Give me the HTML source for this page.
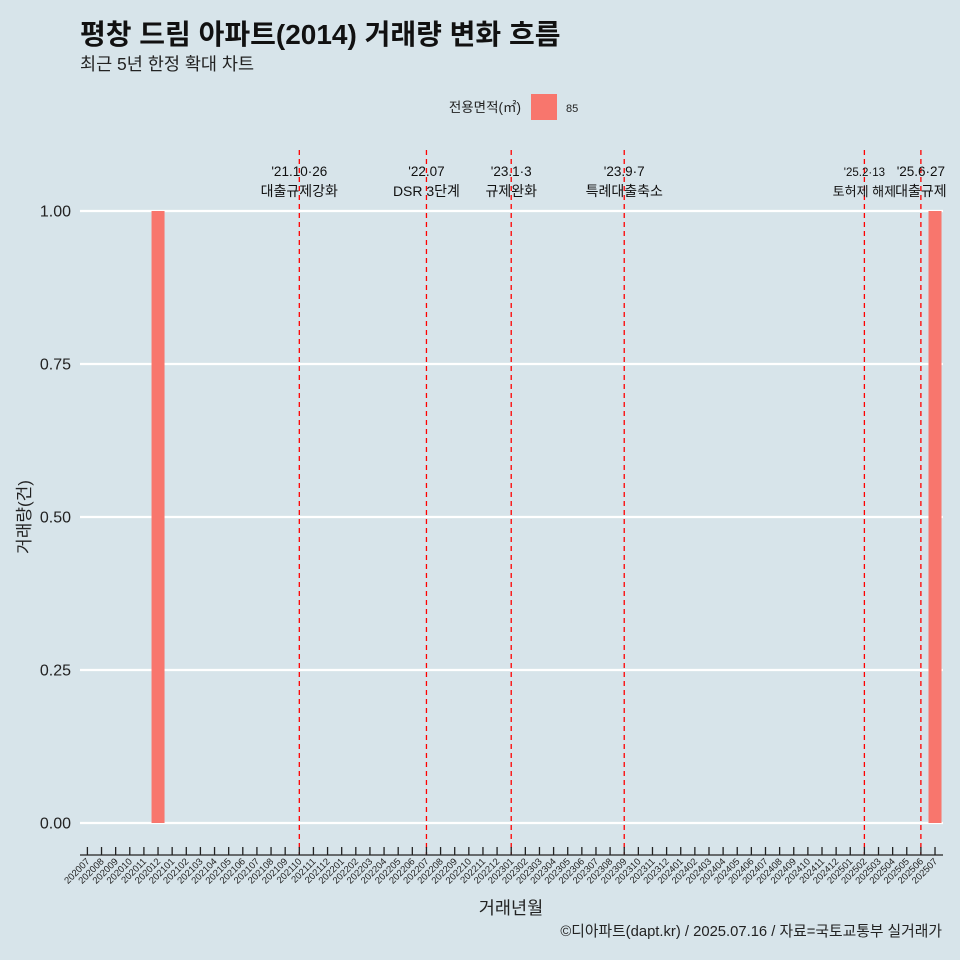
<!DOCTYPE html>
<html><head><meta charset="utf-8"><style>
body{margin:0;background:#d7e4ea;}
svg{display:block;font-family:"Liberation Sans","Noto Sans CJK KR",sans-serif;}
</style></head><body>
<svg id="c" width="960" height="960">
<rect width="960" height="960" fill="#d7e4ea"/>
<text x="80" y="44" font-size="28" font-weight="bold" fill="#111">평창 드림 아파트(2014) 거래량 변화 흐름</text>
<text x="80" y="70" font-size="17.5" fill="#222">최근 5년 한정 확대 차트</text>
<text x="521" y="112" font-size="13.5" text-anchor="end" fill="#222">전용면적(㎡)</text>
<rect x="531" y="94" width="26" height="26" fill="#f8766d"/>
<text x="566" y="112" font-size="11" fill="#222">85</text>
<g id="grid"></g><g id="bars"></g><g id="vlines"></g><g id="xaxis"></g>
<text x="30" y="517" font-size="17" text-anchor="middle" transform="rotate(-90 30 517)" fill="#222">거래량(건)</text>
<text x="511" y="914" font-size="17.5" text-anchor="middle" fill="#222">거래년월</text>
<text x="942" y="936" font-size="14.8" text-anchor="end" fill="#222">©디아파트(dapt.kr) / 2025.07.16 / 자료=국토교통부 실거래가</text>
</svg>
<script>
const months=[];for(let y=2020;y<=2025;y++)for(let m=1;m<=12;m++){const k=y*100+m;if(k>=202007&&k<=202507)months.push(String(k));}
const barMonths=["202012","202507"];
const barValues=[1,1];
const yTicks=[0,0.25,0.5,0.75,1];
const yTickLabels=["0.00","0.25","0.50","0.75","1.00"];
const eventMonths=["202110","202207","202301","202309","202502","202506"];
const eventDates=["'21.10·26","'22.07","'23.1·3","'23.9·7","'25.2·13","'25.6·27"];
const eventNames=["대출규제강화","DSR 3단계","규제완화","특례대출축소","토허제 해제","대출규제"];
const NS="http://www.w3.org/2000/svg";
const xs=i=>87.4+i*14.127;
const ys=v=>823-v*612;
function mk(t,a,p,txt){const e=document.createElementNS(NS,t);for(const k in a)e.setAttribute(k,a[k]);if(txt!==undefined)e.textContent=txt;p.appendChild(e);return e;}
const grid=document.getElementById('grid');
yTicks.forEach((v,i)=>{
 const l=mk('line',{x1:80,x2:943,y1:ys(v),y2:ys(v),stroke:'#fff','stroke-width':2.2},grid);
 
 
 const t=mk('text',{x:71,y:ys(v)+5.5,'font-size':16,'text-anchor':'end',fill:'#222'},grid,yTickLabels[i]);
 
 
});
const bars=document.getElementById('bars');
barMonths.forEach((m,i)=>{
 const x=xs(months.indexOf(m));
 const r=mk('rect',{x:x-6.5,y:ys(barValues[i]),width:13,height:ys(0)-ys(barValues[i]),fill:'#f8766d'},bars);
 
 
});
const vl=document.getElementById('vlines');
eventMonths.forEach((m,i)=>{
 const x=xs(months.indexOf(m));
 const l=mk('line',{x1:x,x2:x,y1:150,y2:855,stroke:'#ff0000','stroke-width':1.3,'stroke-dasharray':'5,4'},vl);
 
 
 const small=(i===4);
 const t1=mk('text',{x:x,y:176,'font-size':small?11.5:13.5,'text-anchor':'middle',fill:'#111'},vl,eventDates[i]);
 
 
 const t2=mk('text',{x:x,y:196,'font-size':small?13:14,'text-anchor':'middle',fill:'#111'},vl,eventNames[i]);
 
 
});
const xa=document.getElementById('xaxis');
const ax=mk('line',{x1:80,x2:943,y1:855,y2:855,stroke:'#222','stroke-width':1.3},xa);


months.forEach((m,i)=>{
 const x=xs(i);
 const tk=mk('line',{x1:x,x2:x,y1:847,y2:855,stroke:'#222','stroke-width':1.3},xa);
 
 
 const t=mk('text',{x:x+3,y:862,'font-size':9.5,'text-anchor':'end',fill:'#222',transform:`rotate(-45 ${x+3} 862)`},xa,m);
 
 
});
</script>
</body></html>
